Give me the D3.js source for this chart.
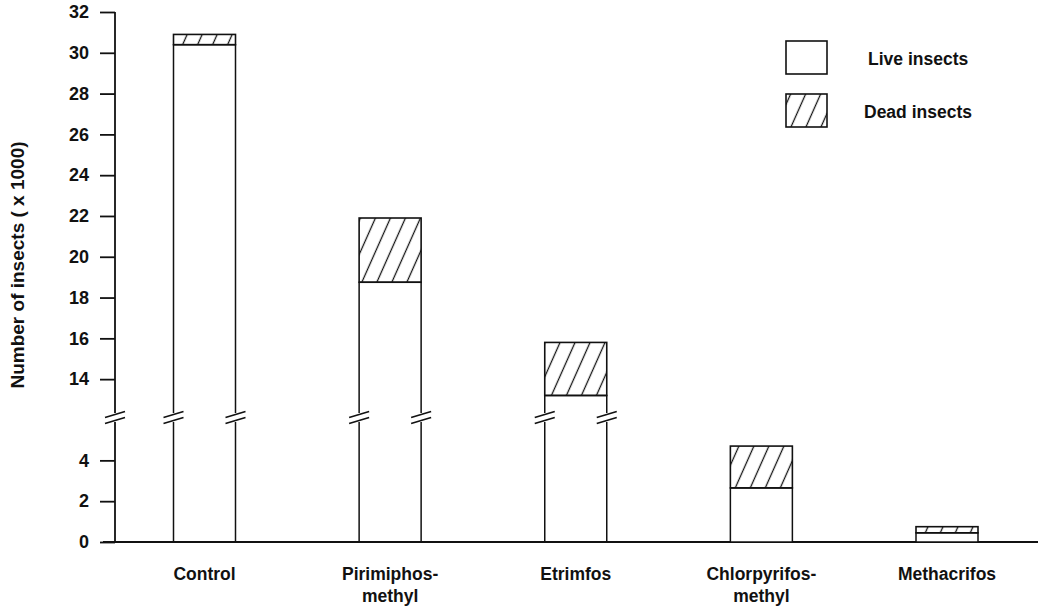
<!DOCTYPE html>
<html>
<head>
<meta charset="utf-8">
<script src="https://cdn.jsdelivr.net/npm/d3@7"></script>
<style>
  html, body { margin: 0; padding: 0; background: #fff; }
  svg { display: block; font-family: "Liberation Sans", Arial, Helvetica, sans-serif; }
  text { font-weight: bold; fill: #111; }
</style>
</head>
<body>
<svg id="chart" width="1046" height="607"></svg>
<script>
// ---- data ----
const categories = ["Control", "Pirimiphos-\nmethyl", "Etrimfos", "Chlorpyrifos-\nmethyl", "Methacrifos"];
const liveInsects = [30.4, 18.75, 13.2, 2.65, 0.45];
const deadInsects = [0.5, 3.15, 2.6, 2.05, 0.3];
const lowerTicks = [0, 2, 4];
const upperTicks = [14, 16, 18, 20, 22, 24, 26, 28, 30, 32];
const lowerDomain = [0, 5.88];    // axis below the break
const upperDomain = [12.34, 32];  // axis above the break
const legendLabels = ["Live insects", "Dead insects"];
const yAxisTitle = "Number of insects ( x 1000)";

// ---- layout ----
const svg = d3.select("#chart");
const axisX = 115;
const baseY = 542;
const lowTop = 422, upBottom = 413, topY = 12;
const barW = 62;

const yLow = d3.scaleLinear().domain(lowerDomain).range([baseY, lowTop]);
const yUp = d3.scaleLinear().domain(upperDomain).range([upBottom, topY]);
const y = v => v <= lowerDomain[1] ? yLow(v) : yUp(v);
const x = d3.scalePoint().domain(categories).range([204.5, 947]);

const ink = "#111";

// hatch pattern
const defs = svg.append("defs");
const pat = defs.append("pattern")
  .attr("id", "hatch").attr("patternUnits", "userSpaceOnUse")
  .attr("width", 15).attr("height", 10)
  .attr("patternTransform", "skewX(-24)");
pat.append("line").attr("x1", 7.5).attr("x2", 7.5).attr("y1", -1).attr("y2", 11)
  .attr("stroke", ink).attr("stroke-width", 1.4);

// ---- y axis ----
const gAxis = svg.append("g");
gAxis.append("line").attr("x1", axisX).attr("x2", axisX).attr("y1", baseY).attr("y2", lowTop)
  .attr("stroke", ink).attr("stroke-width", 1.8);
gAxis.append("line").attr("x1", axisX).attr("x2", axisX).attr("y1", upBottom).attr("y2", topY)
  .attr("stroke", ink).attr("stroke-width", 1.8);

const fmt = d3.format("d");
const axisLow = d3.axisLeft(yLow).tickValues(lowerTicks).tickFormat(fmt).tickSize(15).tickPadding(11);
const axisUp = d3.axisLeft(yUp).tickValues(upperTicks).tickFormat(fmt).tickSize(15).tickPadding(11);
[axisLow, axisUp].forEach(ax => {
  const g = svg.append("g").attr("transform", `translate(${axisX},0)`).call(ax);
  g.select(".domain").remove();
  g.selectAll(".tick line").attr("stroke", ink).attr("stroke-width", 1.8);
  g.selectAll(".tick text").attr("font-size", 18).attr("font-weight", "bold")
    .attr("fill", ink).attr("font-family", "Liberation Sans, Arial, sans-serif");
});

// y title
svg.append("text")
  .attr("transform", "translate(24,265) rotate(-90)")
  .attr("text-anchor", "middle")
  .attr("font-size", 19)
  .text(yAxisTitle);

// baseline
svg.append("line").attr("x1", 103).attr("x2", 1038).attr("y1", baseY).attr("y2", baseY)
  .attr("stroke", ink).attr("stroke-width", 1.8);

// break marks helper
function breakMark(cx) {
  [upBottom + 1.5, lowTop - 1.5].forEach(cy => {
    svg.append("line")
      .attr("x1", cx - 10).attr("y1", cy + 3)
      .attr("x2", cx + 10).attr("y2", cy - 3)
      .attr("stroke", ink).attr("stroke-width", 1.6);
  });
}
breakMark(axisX);

// ---- bars ----
const data = categories.map((c, i) => ({ cat: c, live: liveInsects[i], dead: deadInsects[i] }));
const gBars = svg.append("g");
data.forEach(d => {
  const x0 = x(d.cat) - barW / 2, x1 = x(d.cat) + barW / 2;
  const total = d.live + d.dead;
  // live part
  if (d.live <= lowerDomain[1]) {
    gBars.append("rect").attr("x", x0).attr("y", yLow(d.live))
      .attr("width", barW).attr("height", baseY - yLow(d.live))
      .attr("fill", "#fff").attr("stroke", ink).attr("stroke-width", 1.5);
  } else {
    [x0, x1].forEach(xx => {
      gBars.append("line").attr("x1", xx).attr("x2", xx)
        .attr("y1", baseY).attr("y2", lowTop).attr("stroke", ink).attr("stroke-width", 1.5);
    });
    gBars.append("path")
      .attr("d", `M${x0},${upBottom} L${x0},${yUp(d.live)} L${x1},${yUp(d.live)} L${x1},${upBottom}`)
      .attr("fill", "none").attr("stroke", ink).attr("stroke-width", 1.5);
    breakMark(x0);
    breakMark(x1);
  }
  // dead part
  gBars.append("rect").attr("x", x0).attr("y", y(total))
    .attr("width", barW).attr("height", y(d.live) - y(total))
    .attr("fill", "url(#hatch)").attr("stroke", ink).attr("stroke-width", 1.6);
});

// ---- category labels ----
data.forEach(d => {
  const lines = d.cat.split("\n");
  const t = svg.append("text").attr("text-anchor", "middle").attr("font-size", 17.5)
    .attr("x", x(d.cat)).attr("y", 580);
  lines.forEach((ln, k) => {
    t.append("tspan").attr("x", x(d.cat)).attr("dy", k === 0 ? 0 : 22).text(ln);
  });
});

// ---- legend ----
const legend = svg.append("g");
legendLabels.forEach((lab, i) => {
  const ly = 41 + i * 53;
  legend.append("rect").attr("x", 786).attr("y", ly).attr("width", 41).attr("height", 33)
    .attr("fill", i === 0 ? "#fff" : "url(#hatch)").attr("stroke", ink).attr("stroke-width", 1.6);
  legend.append("text").attr("x", i === 0 ? 868 : 864).attr("y", ly + 24)
    .attr("font-size", 17.5).text(lab);
});
</script>
</body>
</html>
